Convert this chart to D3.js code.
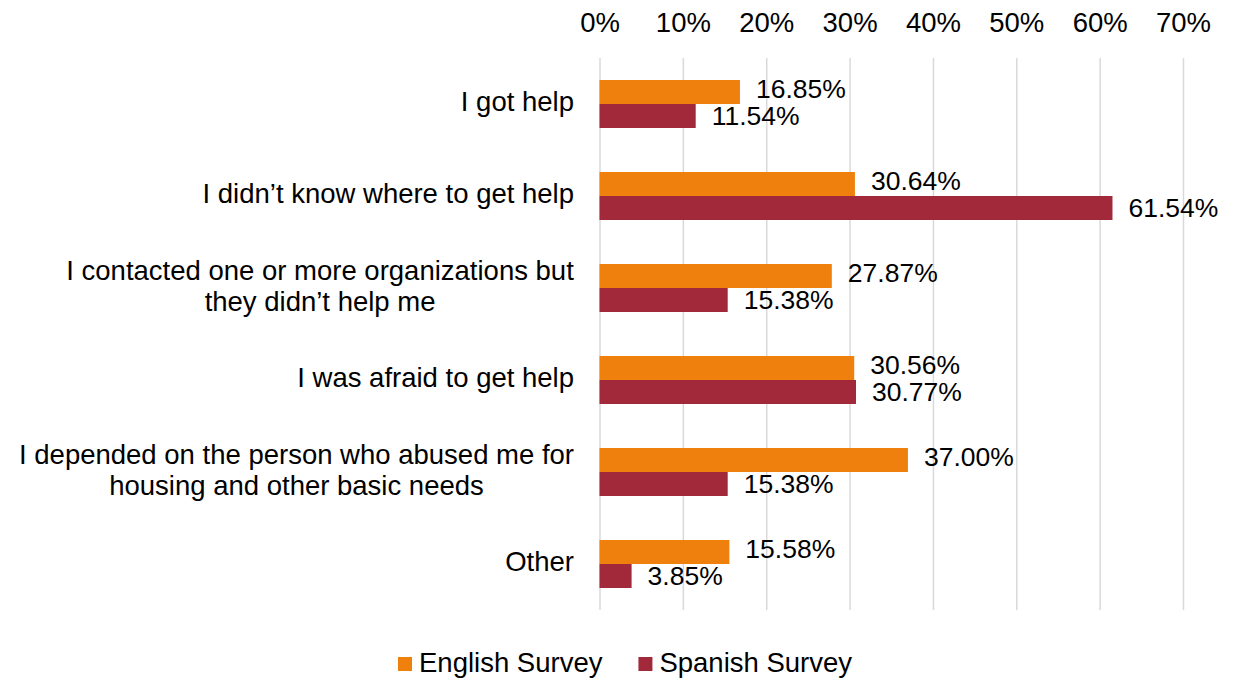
<!DOCTYPE html>
<html>
<head>
<meta charset="utf-8">
<script src="https://cdn.jsdelivr.net/npm/d3@7"></script>
<style>
  html, body { margin: 0; padding: 0; background: #fff; }
  svg { display: block; font-family: "Liberation Sans", Arial, sans-serif; }
</style>
</head>
<body>
<svg id="chart" width="1234" height="680"></svg>
<script>
// Reasons respondents gave, one row per category (line breaks mark wrapped labels)
const categories = [
  "I got help",
  "I didn’t know where to get help",
  "I contacted one or more organizations but\nthey didn’t help me",
  "I was afraid to get help",
  "I depended on the person who abused me for\nhousing and other basic needs",
  "Other"
];
const seriesNames = ["English Survey", "Spanish Survey"];
const englishValues = [16.85, 30.64, 27.87, 30.56, 37.00, 15.58];
const spanishValues = [11.54, 61.54, 15.38, 30.77, 15.38, 3.85];
const tickValues = [0, 10, 20, 30, 40, 50, 60, 70];
const seriesColors = ["#EF800E", "#A22939"];

const fontSize = 27.5;
const valueFontSize = 26.5;
const svg = d3.select("#chart");
const plot = { left: 599.5, right: 1183, top: 58, bottom: 610 };

const x = d3.scaleLinear().domain([0, 70]).range([plot.left, plot.right]);
const y = d3.scaleBand().domain(categories).range([plot.top, plot.bottom]);
const groupH = 48;
const inner = d3.scaleBand().domain(seriesNames).range([0, groupH]);
const color = d3.scaleOrdinal().domain(seriesNames).range(seriesColors);

// vertical gridlines
const grid = svg.append("g")
  .attr("transform", `translate(0,${plot.top})`)
  .call(d3.axisTop(x).tickValues(tickValues).tickSize(-(plot.bottom - plot.top)).tickFormat(""));
grid.select(".domain").remove();
grid.selectAll(".tick line").attr("stroke", "#d9d9d9").attr("stroke-width", 1.5);

// percentage labels across the top
const topAxis = svg.append("g")
  .attr("transform", "translate(0,32)")
  .call(d3.axisTop(x).tickValues(tickValues).tickSize(0).tickPadding(0).tickFormat(d => d + "%"));
topAxis.select(".domain").remove();
topAxis.selectAll("text")
  .attr("font-family", "Liberation Sans, Arial, sans-serif")
  .attr("font-size", fontSize).attr("fill", "#000")
  .attr("dy", 0);

// bars
const rows = categories.map((c, i) => ({
  category: c,
  values: [
    { series: seriesNames[0], value: englishValues[i], shift: -1 },
    { series: seriesNames[1], value: spanishValues[i], shift: 2 }
  ]
}));

const groups = svg.append("g").selectAll("g")
  .data(rows).join("g")
  .attr("transform", d => `translate(0,${y(d.category) + y.bandwidth() / 2 - groupH / 2})`);

groups.selectAll("rect")
  .data(d => d.values).join("rect")
  .attr("x", x(0))
  .attr("y", d => inner(d.series))
  .attr("width", d => x(d.value) - x(0))
  .attr("height", inner.bandwidth())
  .attr("fill", d => color(d.series));

groups.selectAll("text.val")
  .data(d => d.values).join("text")
  .attr("class", "val")
  .attr("x", d => x(d.value) + 16)
  .attr("y", d => inner(d.series) + inner.bandwidth() / 2 + d.shift)
  .attr("dominant-baseline", "middle")
  .attr("font-size", valueFontSize)
  .attr("fill", "#000")
  .text(d => d.value.toFixed(2) + "%");

// category labels, wrapped lines centred on each other, right-aligned block
const labelRight = 574;
const lineH = 31;
const catG = svg.append("g");
categories.forEach(c => {
  const lines = c.split("\n");
  const t = catG.append("text")
    .attr("font-size", fontSize).attr("fill", "#000")
    .attr("text-anchor", "middle");
  lines.forEach((ln, j) => {
    t.append("tspan")
      .attr("x", 0)
      .attr("y", y(c) + y.bandwidth() / 2 + (j - (lines.length - 1) / 2) * lineH)
      .attr("dominant-baseline", "middle")
      .text(ln);
  });
  const w = t.node().getBBox().width;
  t.selectAll("tspan").attr("x", labelRight - w / 2);
});

// legend
const legend = svg.append("g").attr("transform", "translate(398,664)");
let lx = 0;
seriesNames.forEach(name => {
  legend.append("rect")
    .attr("x", lx).attr("y", -7).attr("width", 14).attr("height", 14)
    .attr("fill", color(name));
  const t = legend.append("text")
    .attr("x", lx + 21).attr("y", 1)
    .attr("dominant-baseline", "middle")
    .attr("font-size", fontSize).attr("fill", "#000")
    .text(name);
  lx += 21 + t.node().getComputedTextLength() + 36;
});
</script>
</body>
</html>
